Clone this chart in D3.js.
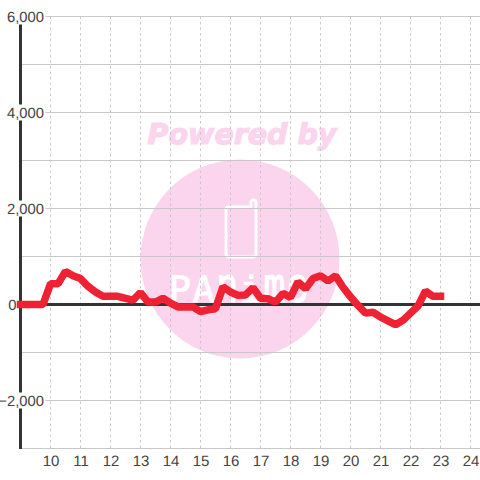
<!DOCTYPE html>
<html><head><meta charset="utf-8"><script src="https://cdn.jsdelivr.net/npm/d3@7/dist/d3.min.js"></script>
<style>html,body{margin:0;padding:0;background:#fff}svg{display:block}text{font-family:"Liberation Sans",Arial,sans-serif;text-rendering:geometricPrecision}</style></head><body>
<svg id="c" width="480" height="480"></svg>
<script>
const hours=[9,9.25,9.5,9.75,10,10.25,10.5,10.75,11,11.25,11.5,11.75,12,12.25,12.5,12.75,13,13.25,13.5,13.75,14,14.25,14.5,14.75,15,15.25,15.5,15.75,16,16.25,16.5,16.75,17,17.25,17.5,17.75,18,18.25,18.5,18.75,19,19.25,19.5,19.75,20,20.25,20.5,20.75,21,21.25,21.5,21.75,22,22.25,22.5,22.75,23];
const values=[0,0,0,0,430,430,690,600,540,380,260,170,170,170,130,90,250,50,50,130,30,-50,-50,-50,-150,-110,-90,370,260,190,200,350,130,120,50,230,150,470,330,540,600,490,600,360,160,-20,-180,-160,-260,-340,-420,-330,-180,-30,280,170,170];
const xTicks=[10,11,12,13,14,15,16,17,18,19,20,21,22,23,24];
const yGrid=[-3000,-2000,-1000,1000,2000,3000,4000,5000,6000];
const yLabels=[-2000,2000,4000,6000];
const zeroLabel=[0];
const logoLetters=["P","A","n","i","m","o"];
const logoStretch=[0.98,0.98,1.3,0.98,1.3,1.3];
const x=d3.scaleLinear().domain([9,24]).range([20.5,470.5]);
const y=d3.scaleLinear().domain([-3000,6000]).range([448.5,16.5]);
const svg=d3.select("#c");
// watermark
const pink="#fbd5ee";
const wm=svg.append("g");
wm.append("circle").attr("cx",240).attr("cy",259).attr("r",99.5).attr("fill",pink);
wm.append("text").attr("x",242).attr("y",144).attr("text-anchor","middle").attr("font-size",28.5).attr("font-weight","bold").attr("font-style","italic").attr("fill",pink).attr("stroke",pink).attr("stroke-width",1.2).style("font-family","DejaVu Sans").text("Powered by");
wm.append("path").attr("d","M229 207H251V203Q251 200 253.5 200Q256 200 256 203V254Q256 257 253 257H229Q226 257 226 254V210Q226 207 229 207Z").attr("fill","none").attr("stroke","#fff").attr("stroke-width",2.8);
const lx=d3.scalePoint().domain(d3.range(6)).range([180,298]);
wm.selectAll("text.l").data(logoLetters).join("text").attr("class","l").attr("text-anchor","middle").attr("font-size",37).attr("fill","#fff").attr("stroke","#fff").attr("stroke-width",0.8).style("font-family","DejaVu Sans Mono")
 .attr("transform",(d,i)=>`translate(${lx(i)},302) scale(1,${logoStretch[i]})`).text(d=>d);
// grid
svg.append("g").selectAll("line").data(xTicks).join("line").attr("x1",d=>x(d)).attr("x2",d=>x(d)).attr("y1",16.5).attr("y2",448.5).attr("stroke","#c8c8c8").attr("stroke-dasharray","2.5,3").attr("stroke-width",1);
svg.append("g").selectAll("line").data(yGrid).join("line").attr("x1",20).attr("x2",480).attr("y1",d=>y(d)).attr("y2",d=>y(d)).attr("stroke","#c8c8c8").attr("stroke-width",1);
// axes
svg.append("line").attr("x1",20.5).attr("x2",20.5).attr("y1",16).attr("y2",449).attr("stroke","#333").attr("stroke-width",3);
svg.append("line").attr("x1",20).attr("x2",480).attr("y1",y(0)).attr("y2",y(0)).attr("stroke","#333").attr("stroke-width",3);
// labels
svg.append("g").selectAll("rect").data(yLabels).join("rect").attr("x",0).attr("width",45.5).attr("y",d=>y(d)-8).attr("height",16).attr("fill","#fff");
svg.append("g").selectAll("text").data(yLabels).join("text").attr("x",44).attr("y",d=>y(d)+5.5).attr("text-anchor","end").attr("font-size",14.8).attr("fill","#444").text(d=>d3.format(",")(d));
svg.append("g").selectAll("text").data(zeroLabel).join("text").attr("x",16.5).attr("y",d=>y(d)+5.5).attr("text-anchor","end").attr("font-size",14.8).attr("fill","#444").text(d=>d);
svg.append("g").selectAll("text").data(xTicks).join("text").attr("x",d=>x(d)+.5).attr("y",466).attr("text-anchor","middle").attr("font-size",15).attr("fill","#444").text(d=>d);
// series
const line=d3.line().x((d,i)=>x(hours[i])).y(d=>y(d));
svg.append("path").attr("d",line(values)).attr("fill","none").attr("stroke","#ee2233").attr("stroke-width",7.5).attr("stroke-linecap","square").attr("stroke-linejoin","bevel");
</script></body></html>
